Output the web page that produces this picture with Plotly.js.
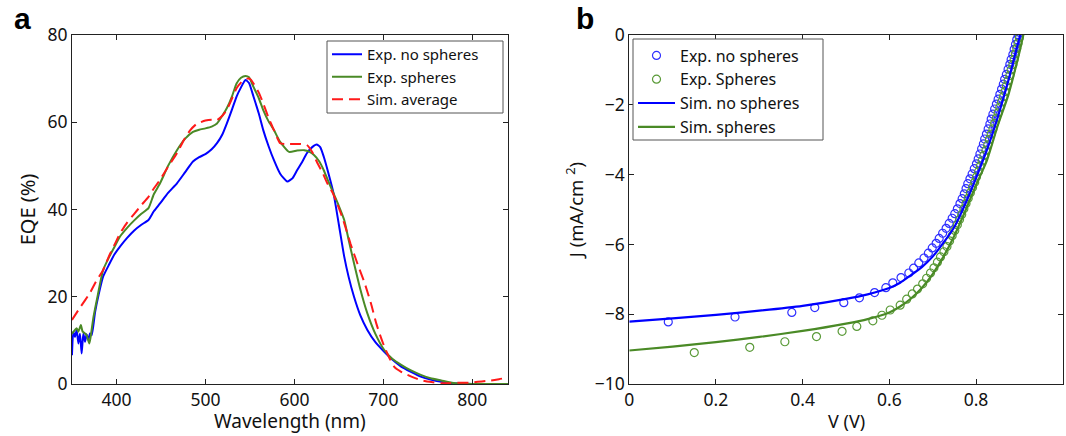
<!DOCTYPE html>
<html>
<head>
<meta charset="utf-8">
<script src="https://cdn.plot.ly/plotly-3.0.1.min.js"></script>
<style>html,body{margin:0;padding:0;background:#fff;}#chart{width:1066px;height:436px;}</style>
</head>
<body>
<div id="chart"></div>
<script>
// ---- Panel a: EQE spectra ----
const wlNoSpheres = [350,351.5,353.4,355.3,357.2,359,360.9,362.8,364.7,366.5,368.4,370.3,372.2,376,380,385,392,398,404,412,420,428,436,442,449,458,468,477,486,493,500,507,513,519,524,530,535,540,545,549,554,560,565,571,577,584,592,598,603,609,614,620,625,629,633,638,644,650,656,661,667,674,682,691,701,710,720,731,742,753,765,777,787,800,815,830,840];
const eqeNoSpheres = [6.6,12.0,10.8,12.4,9.3,11.5,7.0,11.6,9.7,11.4,10.1,11.6,11.2,16.5,20.5,24.6,27.5,29.8,31.5,33.5,35.2,36.5,37.6,39.6,41.4,43.8,46.0,48.5,51.0,52.0,52.7,53.8,55.2,57.2,59.7,63.0,65.9,68.0,69.7,69.0,65.9,62.0,58.2,54.5,51.3,48.2,46.4,47.2,49.0,51.0,52.9,54.3,54.9,54.3,52.1,48.5,43.7,36.5,29.2,24.5,20.0,15.8,12.4,9.6,7.4,5.6,4.0,2.8,1.7,1.0,0.5,0.2,0.1,0.0,0.0,0.0,0.0];

const wlSpheres = [350,353.4,355.3,357.2,360,362,364.7,366.5,369.5,371,374,378,385,392,398,404,412,420,428,436,442,449,458,468,477,486,493,500,507,513,519,524,530,535,540,545,549,554,560,565,571,577,584,594,603,611,617,622,628,633,638,644,650,656,661,667,674,682,691,701,710,720,731,742,753,765,777,787,800,840];
const eqeSpheres = [11.5,12.4,12.8,12.0,13.5,12.0,11.6,11.2,9.3,10.8,15.1,19.3,26.1,29.2,31.5,33.8,35.8,37.5,39.0,40.3,43.5,46.0,50.0,53.6,56.2,57.8,58.3,58.6,59.0,59.7,61.5,63.2,66.0,68.9,70.2,70.6,70.3,68.1,65.5,62.8,60.2,58.2,55.5,53.2,53.5,53.6,53.2,52.5,51.0,49.0,46.5,43.7,40.8,37.6,33.0,27.7,21.8,16.2,11.5,7.8,5.8,4.4,3.1,2.1,1.3,0.8,0.3,0.1,0.0,0.0];

const wlSim = [350,360,370,377,385,392,398,404,412,420,428,436,442,449,458,468,476,483,490,500,507,513,519,524,530,535,541,547,551,554,560,565,571,577,584,590,599,607,614,620,626,632,637,643,648,655,663,671,679,686,692,697,701,706,712,720,727,735,742,752,765,775,787,797,806,815,821,830,840];
const eqeSim = [14.7,17.8,20.8,23.5,26.1,29.5,32.0,34.5,37.0,39.0,41.0,42.9,44.8,46.8,49.8,52.9,56.0,58.2,59.6,60.4,60.6,60.5,61.5,62.8,65.5,67.8,69.3,70.0,69.8,68.9,66.8,64.3,61.0,58.2,55.2,55.0,55.0,55.0,54.8,53.2,50.6,48.3,46.0,43.8,41.4,37.5,32.2,27.5,23.1,18.5,13.9,10.8,8.6,6.3,4.0,2.8,2.1,1.4,0.9,0.5,0.2,0.2,0.3,0.3,0.5,0.7,0.8,1.1,1.5];

// ---- Panel b: J-V curves ----
const vExpNo = [0.090,0.244,0.375,0.428,0.495,0.531,0.566,0.592,0.608,0.627,0.645,0.656,0.668,0.680,0.690,0.699,0.708,0.715,0.723,0.731,0.738,0.745,0.751,0.757,0.763,0.768,0.773,0.777,0.781,0.786,0.791,0.796,0.801,0.805,0.809,0.813,0.817,0.820,0.824,0.828,0.832,0.835,0.839,0.843,0.847,0.851,0.855,0.859,0.863,0.866,0.870,0.874,0.878,0.881,0.885,0.888,0.891,0.894,0.897];
const jExpNo = [-8.22,-8.08,-7.95,-7.81,-7.67,-7.53,-7.38,-7.24,-7.10,-6.95,-6.82,-6.68,-6.53,-6.39,-6.25,-6.10,-5.97,-5.83,-5.68,-5.54,-5.40,-5.25,-5.12,-4.98,-4.83,-4.69,-4.55,-4.40,-4.26,-4.12,-3.98,-3.83,-3.69,-3.55,-3.41,-3.26,-3.12,-2.98,-2.84,-2.69,-2.55,-2.41,-2.27,-2.12,-1.98,-1.84,-1.70,-1.55,-1.41,-1.27,-1.13,-0.98,-0.84,-0.70,-0.56,-0.41,-0.27,-0.13,0.01];

const vExpSph = [0.150,0.278,0.359,0.432,0.491,0.525,0.562,0.583,0.602,0.625,0.640,0.653,0.665,0.677,0.686,0.695,0.703,0.711,0.718,0.726,0.733,0.739,0.745,0.751,0.757,0.762,0.767,0.772,0.777,0.782,0.787,0.792,0.797,0.801,0.806,0.810,0.814,0.818,0.823,0.827,0.831,0.835,0.839,0.843,0.847,0.851,0.855,0.859,0.863,0.867,0.870,0.874,0.878,0.881,0.885,0.888,0.891,0.894,0.897,0.900];
const jExpSph = [-9.10,-8.95,-8.79,-8.64,-8.49,-8.35,-8.19,-8.03,-7.88,-7.74,-7.57,-7.42,-7.28,-7.13,-6.97,-6.82,-6.67,-6.51,-6.36,-6.21,-6.06,-5.90,-5.75,-5.60,-5.44,-5.29,-5.14,-4.98,-4.83,-4.68,-4.52,-4.37,-4.22,-4.07,-3.91,-3.76,-3.61,-3.45,-3.30,-3.15,-2.99,-2.84,-2.69,-2.53,-2.38,-2.23,-2.07,-1.92,-1.77,-1.62,-1.46,-1.31,-1.16,-1.00,-0.85,-0.70,-0.54,-0.39,-0.24,-0.08];

const vSimNo = [0,0.1,0.2,0.3,0.4,0.5,0.55,0.6,0.625,0.65,0.675,0.7,0.725,0.75,0.775,0.8,0.825,0.85,0.875,0.89,0.902,0.91];
const jSimNo = [-8.21,-8.12,-8.02,-7.90,-7.76,-7.56,-7.43,-7.25,-7.10,-6.88,-6.65,-6.35,-5.95,-5.50,-4.85,-4.10,-3.30,-2.36,-1.29,-0.57,0.0,0.45];

const vSimSph = [0,0.1,0.2,0.3,0.4,0.5,0.55,0.6,0.625,0.65,0.675,0.7,0.725,0.75,0.775,0.8,0.825,0.85,0.875,0.9,0.91,0.92];
const jSimSph = [-9.04,-8.93,-8.80,-8.65,-8.48,-8.27,-8.14,-7.95,-7.78,-7.55,-7.25,-6.85,-6.35,-5.75,-5.05,-4.30,-3.60,-2.60,-1.70,-0.50,0.05,0.60];

const ticksEQE = [0,20,40,60,80];
const ticksWL = [400,500,600,700,800];
const ticksJ = [-10,-8,-6,-4,-2,0];
const ticksV = [0,0.2,0.4,0.6,0.8,1];

const BLUE = '#0000ff';
const GREEN = '#4a8a26';
const RED = '#ff1a1a';
const FONT = 'Noto Sans, sans-serif';

const traces = [
  {x: wlNoSpheres, y: eqeNoSpheres, xaxis:'x', yaxis:'y', mode:'lines', name:'Exp. no spheres',
   line:{color:BLUE, width:2, shape:'spline', smoothing:0.5}, legend:'legend'},
  {x: wlSpheres, y: eqeSpheres, xaxis:'x', yaxis:'y', mode:'lines', name:'Exp. spheres',
   line:{color:GREEN, width:2, shape:'spline', smoothing:0.5}, legend:'legend'},
  {x: wlSim, y: eqeSim, xaxis:'x', yaxis:'y', mode:'lines', name:'Sim. average',
   line:{color:RED, width:2, dash:'11px,6px', shape:'spline', smoothing:0.5}, legend:'legend'},

  {x: vExpNo, y: jExpNo, xaxis:'x2', yaxis:'y2', mode:'markers', name:'Exp. no spheres',
   marker:{symbol:'circle-open', size:8, color:'#2f2fff', line:{width:1.2}}, legend:'legend2'},
  {x: vExpSph, y: jExpSph, xaxis:'x2', yaxis:'y2', mode:'markers', name:'Exp. Spheres',
   marker:{symbol:'circle-open', size:8, color:'#5a9a38', line:{width:1.2}}, legend:'legend2'},
  {x: vSimNo, y: jSimNo, xaxis:'x2', yaxis:'y2', mode:'lines', name:'Sim. no spheres',
   line:{color:BLUE, width:2.2, shape:'spline', smoothing:0.6}, legend:'legend2'},
  {x: vSimSph, y: jSimSph, xaxis:'x2', yaxis:'y2', mode:'lines', name:'Sim. spheres',
   line:{color:GREEN, width:2.2, shape:'spline', smoothing:0.6}, legend:'legend2'}
];

const axisCommon = {
  showline:true, linecolor:'#222', linewidth:1, mirror:'ticks', ticks:'inside', ticklen:5,
  tickcolor:'#222', showgrid:false, zeroline:false, tickfont:{family:FONT, size:17.5, color:'#111'}
};

// plot area: y from 35px (top) to 384px (bottom) -> height 349
const H = 349, TOP = 35;
const py = p => (384 - p) / H;   // pixel row -> paper y
const px = p => p / 1066;        // pixel col -> paper x

const layout = {
  width:1066, height:436,
  margin:{l:0, r:0, t:TOP, b:52},
  paper_bgcolor:'#fff', plot_bgcolor:'#fff',
  font:{family:FONT, color:'#111'},
  showlegend:true,
  xaxis: Object.assign({}, axisCommon, {domain:[0.0675,0.4765], range:[350,840], tickvals:ticksWL}),
  yaxis: Object.assign({}, axisCommon, {domain:[0,1], range:[0,80], tickvals:ticksEQE,
    title:{text:'EQE (%)', font:{family:FONT, size:20}, standoff:6}}),
  xaxis2: Object.assign({}, axisCommon, {domain:[0.5903,0.9969], range:[0,1], tickvals:ticksV, anchor:'y2'}),
  yaxis2: Object.assign({}, axisCommon, {domain:[0,1], range:[-10,0], tickvals:ticksJ, anchor:'x2',
    title:{text:'J (mA/cm <sup>2</sup>)', font:{family:FONT, size:18.5}, standoff:6}}),
  legend:{x:px(327), y:py(38), xanchor:'left', yanchor:'top', bgcolor:'rgba(0,0,0,0)', borderwidth:0,
    font:{family:FONT, size:15, color:'#111'}, tracegroupgap:0, itemwidth:30},
  legend2:{x:px(633), y:py(38.5), xanchor:'left', yanchor:'top', bgcolor:'rgba(0,0,0,0)', borderwidth:0,
    font:{family:FONT, size:16, color:'#111'}, tracegroupgap:0, itemwidth:37},
  shapes:[
    {type:'rect', xref:'paper', yref:'paper', x0:px(327), x1:px(503), y0:py(113), y1:py(41),
     line:{color:'#555', width:1}, fillcolor:'#fff', layer:'above'},
    {type:'rect', xref:'paper', yref:'paper', x0:px(633), x1:px(823), y0:py(140), y1:py(39),
     line:{color:'#555', width:1}, fillcolor:'#fff', layer:'above'}
  ],
  annotations:[
    {text:'Wavelength (nm)', xref:'paper', yref:'paper', x:px(290), y:py(421.5), xanchor:'center', yanchor:'middle',
     showarrow:false, font:{family:FONT, size:19, color:'#111'}},
    {text:'V (V)', xref:'paper', yref:'paper', x:px(846), y:py(421.5), xanchor:'center', yanchor:'middle',
     showarrow:false, font:{family:FONT, size:18, color:'#111'}},
    {text:'<b>a</b>', xref:'paper', yref:'paper', x:0.011, y:1.10, xanchor:'left', yanchor:'top', showarrow:false,
     font:{family:'Liberation Sans, Arial, sans-serif', size:30, color:'#000'}},
    {text:'<b>b</b>', xref:'paper', yref:'paper', x:0.538, y:1.10, xanchor:'left', yanchor:'top', showarrow:false,
     font:{family:'Liberation Sans, Arial, sans-serif', size:30, color:'#000'}}
  ]
};

Plotly.newPlot('chart', traces, layout, {displayModeBar:false, staticPlot:true});
</script>
</body>
</html>
